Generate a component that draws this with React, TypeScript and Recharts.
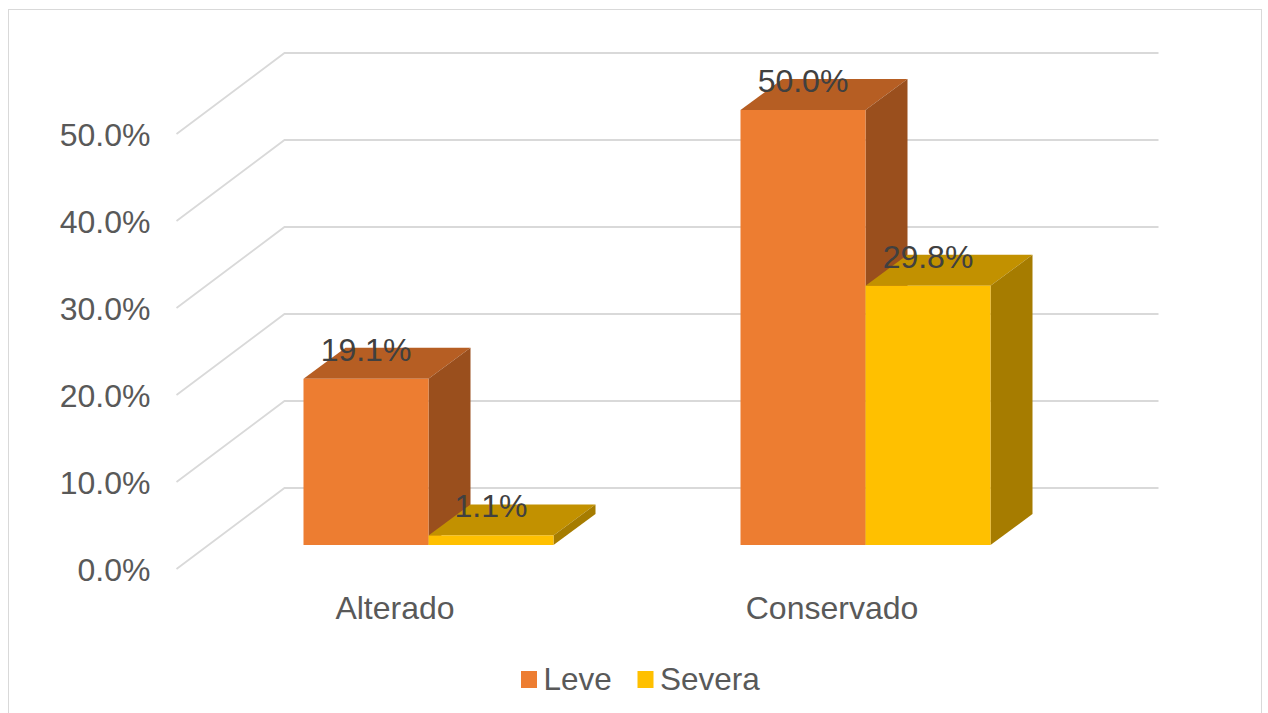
import React from 'react';
import { BarChart, Bar, XAxis, YAxis, CartesianGrid, LabelList, Legend } from 'recharts';

const categories = ['Alterado', 'Conservado'];
const leveValues = [0.191, 0.5];
const severaValues = [0.011, 0.298];
const yTicks = [0, 0.1, 0.2, 0.3, 0.4, 0.5];
const seriesNames = ['Leve', 'Severa'];

const data = categories.map((c, i) => ({ name: c, Leve: leveValues[i], Severa: severaValues[i] }));

const FONT = '"Liberation Sans", Arial, sans-serif';
const FRONT = { dx: -33, dy: 24 };
const BACK = { dx: 75, dy: -57 };
const BAR_DEPTH = { dx: 42, dy: -31 };

const COLORS: Record<string, { front: string; top: string; side: string }> = {
  Leve: { front: '#ED7D31', top: '#B65E23', side: '#9A4F1D' },
  Severa: { front: '#FFC000', top: '#C29100', side: '#A67C00' },
};

const fmt = (v: number) => (v * 100).toFixed(1) + '%';

function make3DShape(c: { front: string; top: string; side: string }) {
  return (props: any) => {
    const { x, y, width, height } = props;
    if (width == null || height == null) return <g />;
    const dx = BAR_DEPTH.dx;
    const dy = BAR_DEPTH.dy;
    const x2 = x + width;
    const yb = y + height;
    return (
      <g>
        <polygon points={`${x},${y} ${x + dx},${y + dy} ${x2 + dx},${y + dy} ${x2},${y}`} fill={c.top} />
        <polygon points={`${x2},${y} ${x2 + dx},${y + dy} ${x2 + dx},${yb + dy} ${x2},${yb}`} fill={c.side} />
        <rect x={x} y={y} width={width} height={height} fill={c.front} />
      </g>
    );
  };
}

const renderValueLabel = (props: any) => {
  const { x, y, width, value } = props;
  return (
    <text
      x={Number(x) + Number(width) / 2}
      y={Number(y) - 18}
      textAnchor="middle"
      fontSize={32}
      fill="#404040"
      fontFamily={FONT}
    >
      {fmt(Number(value))}
    </text>
  );
};

const renderYTick = (props: any) => {
  const { y, payload } = props;
  return (
    <text key={`y-${payload.value}`} x={150.5} y={y + 35.5} textAnchor="end" fontSize={32} fill="#595959" fontFamily={FONT}>
      {fmt(payload.value)}
    </text>
  );
};

const renderXTick = (props: any) => {
  const { x, payload } = props;
  return (
    <text key={`x-${payload.value}`} x={x + FRONT.dx} y={618.5} textAnchor="middle" fontSize={32} fill="#595959" fontFamily={FONT}>
      {payload.value}
    </text>
  );
};

const gridLine = (p: any) => {
  const { x1, x2, y1 } = p;
  const pts = `${x1 + FRONT.dx},${y1 + FRONT.dy} ${x1 + BACK.dx},${y1 + BACK.dy} ${x2 + BACK.dx},${y1 + BACK.dy}`;
  return <polyline key={`g-${y1}`} points={pts} fill="none" stroke="#D9D9D9" strokeWidth={1.8} />;
};

const LegendContent = () => (
  <svg width={260} height={50} style={{ display: 'block' }}>
    {seriesNames.map((n, i) => {
      const bx = i === 0 ? 0 : 116.5;
      return (
        <g key={n}>
          <rect x={bx} y={16} width={16} height={17} fill={COLORS[n].front} />
          <text x={bx + 22.5} y={35} fontSize={31.5} fill="#595959" fontFamily={FONT}>
            {n}
          </text>
        </g>
      );
    })}
  </svg>
);

export default function App() {
  return (
    <div style={{ position: 'absolute', left: 0, top: 0, width: 1268, height: 713, background: '#fff', overflow: 'hidden' }}>
      <div
        style={{
          position: 'absolute',
          left: 8,
          top: 9,
          width: 1254,
          height: 740,
          border: '1.5px solid #D9D9D9',
          boxSizing: 'border-box',
        }}
      />
      <div style={{ position: 'absolute', left: 0, top: 0 }}>
        <BarChart
          width={1268}
          height={713}
          data={data}
          margin={{ top: 110, right: 184.5, bottom: 138, left: 149.5 }}
          barGap={0}
          barSize={125}
        >
          <CartesianGrid vertical={false} horizontal={gridLine} />
          <XAxis dataKey="name" height={30} axisLine={false} tickLine={false} tick={renderXTick} interval={0} />
          <YAxis
            type="number"
            domain={[0, 0.5]}
            ticks={yTicks}
            width={60}
            axisLine={false}
            tickLine={false}
            tick={renderYTick}
            interval={0}
          />
          <Legend
            layout="horizontal"
            verticalAlign="middle"
            align="center"
            content={<LegendContent />}
            wrapperStyle={{ position: 'absolute', left: 521, top: 655, width: 260, height: 50 }}
          />
          {seriesNames.map((n) => (
            <Bar key={n} dataKey={n} isAnimationActive={false} shape={make3DShape(COLORS[n])} fill={COLORS[n].front}>
              <LabelList dataKey={n} content={renderValueLabel} />
            </Bar>
          ))}
        </BarChart>
      </div>
    </div>
  );
}
